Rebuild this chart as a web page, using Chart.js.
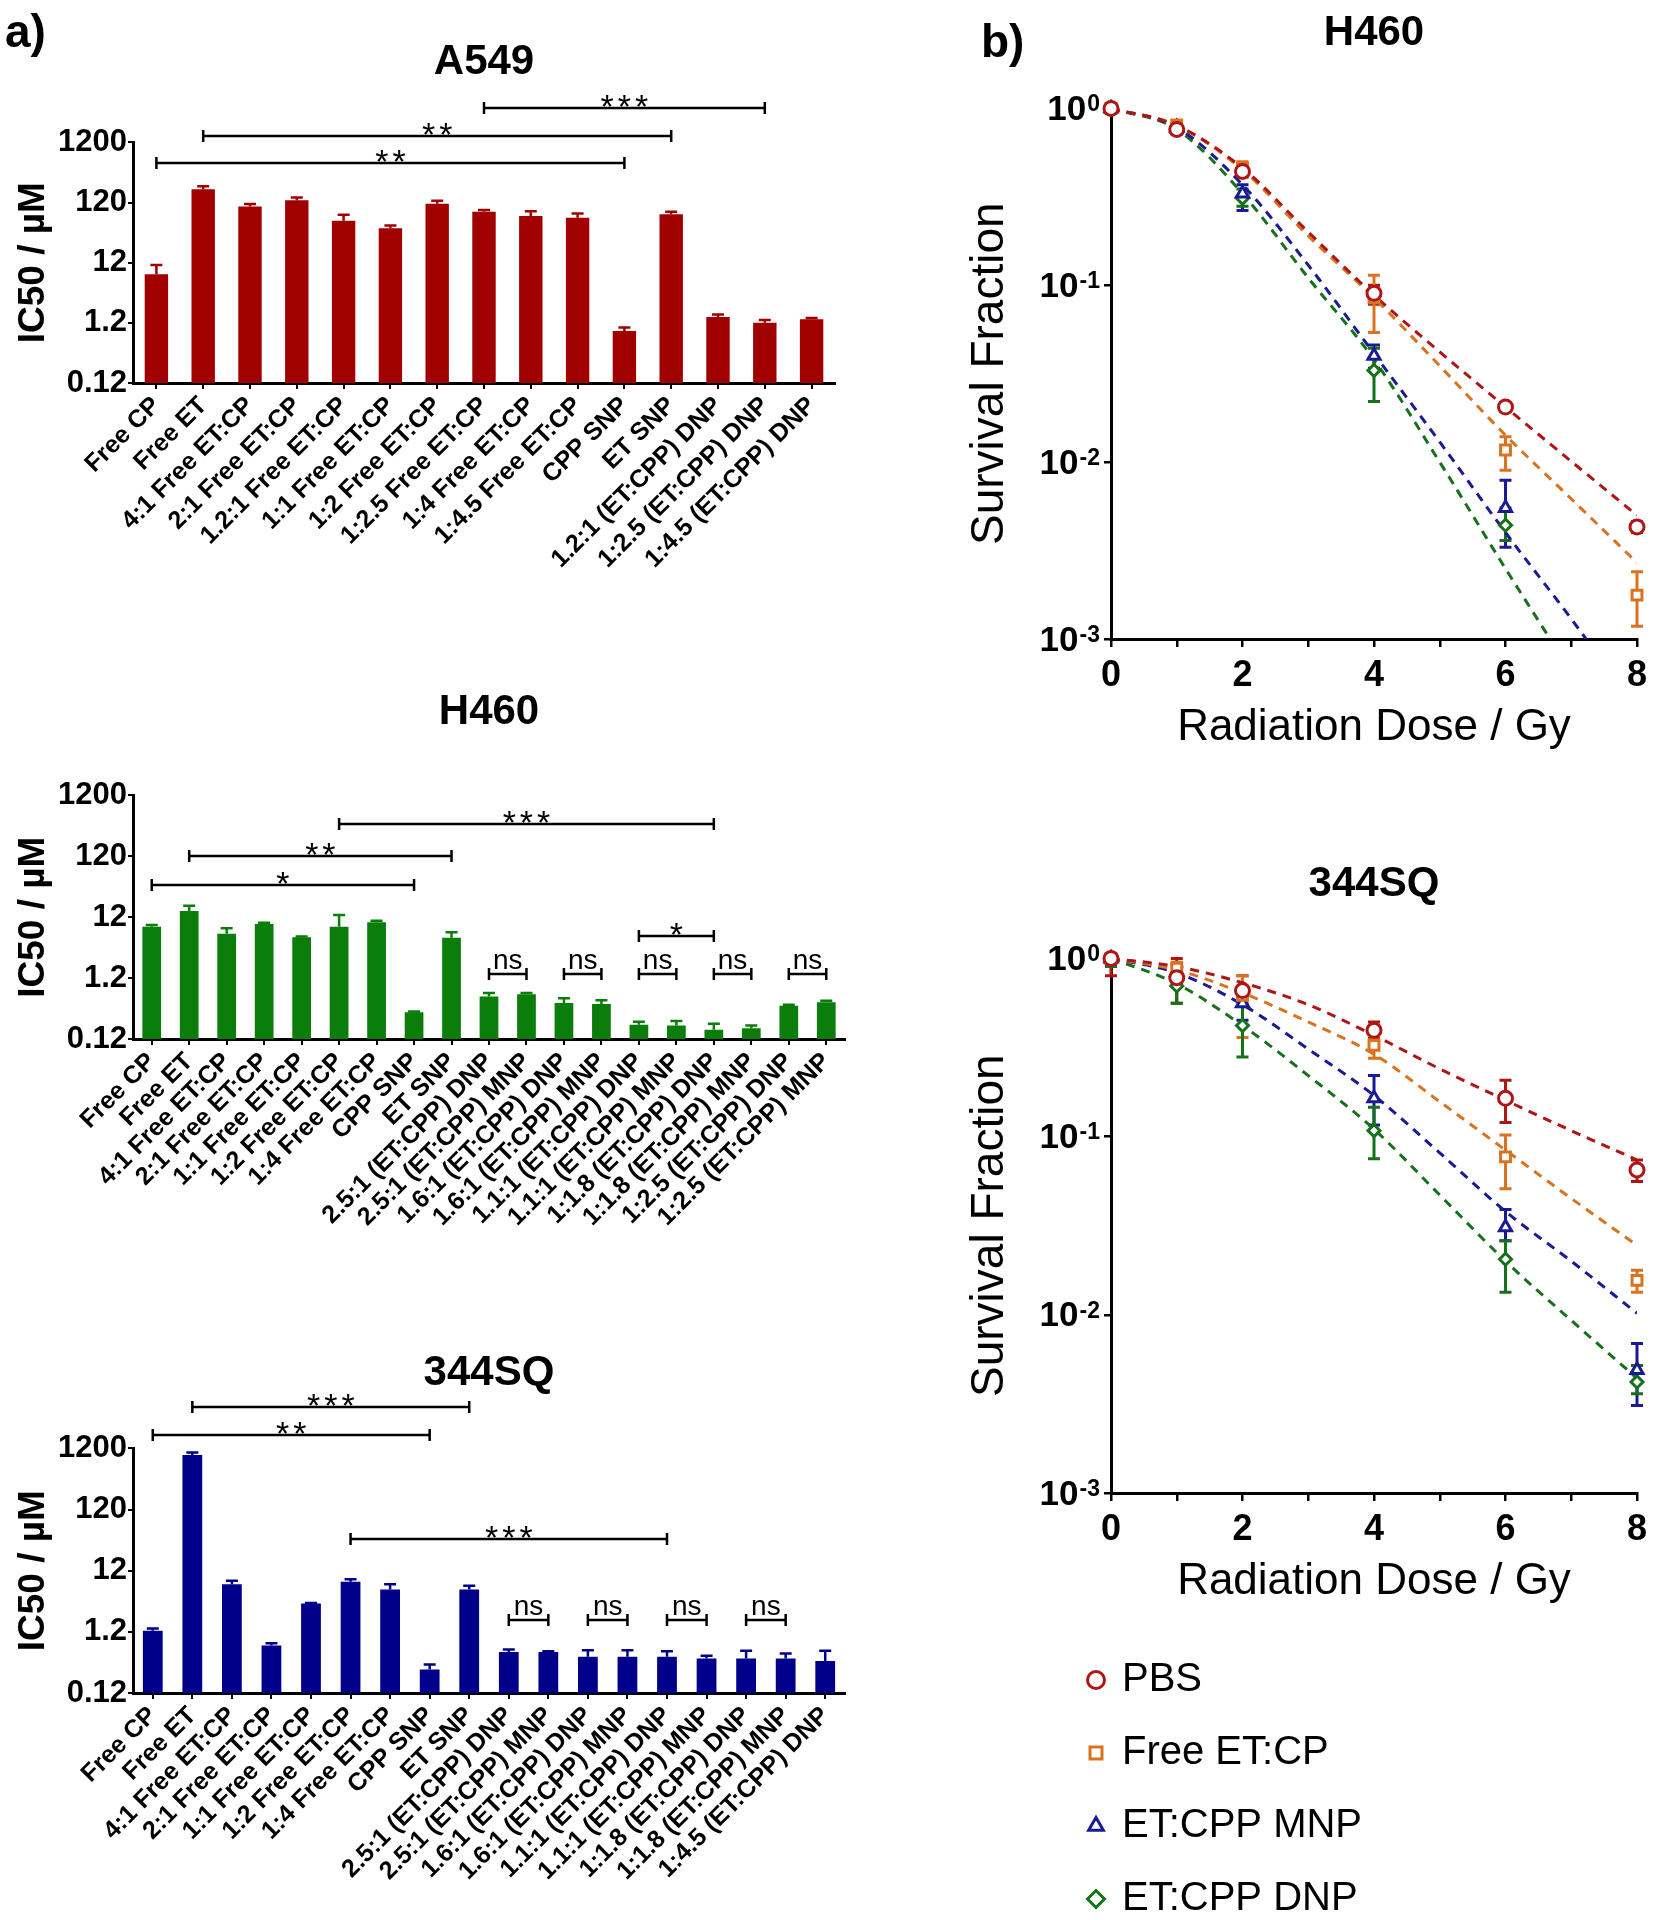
<!DOCTYPE html>
<html>
<head>
<meta charset="utf-8">
<script src="https://cdn.jsdelivr.net/npm/chart.js@4.4.1/dist/chart.umd.min.js"></script>
<style>
  html, body { margin: 0; padding: 0; background: #fff; overflow: hidden; }
  body { width: 1655px; height: 1920px; position: relative; font-family: 'Liberation Sans', Arial, sans-serif; }
  canvas { position: absolute; }
  .panel { position: absolute; font-weight: bold; font-size: 46px; line-height: 1; color: #000; }
</style>
</head>
<body>
<canvas id="a549" width="870" height="590" style="left:0;top:0"></canvas>
<canvas id="h460bar" width="870" height="600" style="left:0;top:680px"></canvas>
<canvas id="sq344bar" width="870" height="590" style="left:0;top:1330px"></canvas>
<canvas id="h460line" width="715" height="780" style="left:940px;top:0"></canvas>
<canvas id="sq344line" width="715" height="780" style="left:940px;top:840px"></canvas>
<canvas id="legend" width="598" height="340" style="left:1057px;top:1627px"></canvas>
<div class="panel" style="left:5px;top:8px">a)</div>
<div class="panel" style="left:981px;top:18px">b)</div>
<script>
const FONT = "'Liberation Sans', Arial, sans-serif";
Chart.defaults.font.family = FONT;
Chart.defaults.color = '#000';
Chart.defaults.animation = false;

// ---- IC50 bar data ----
const icTicks = [0.12, 1.2, 12, 120, 1200];

const a549Labels = ['Free CP', 'Free ET', '4:1 Free ET:CP', '2:1 Free ET:CP', '1.2:1 Free ET:CP', '1:1 Free ET:CP',
  '1:2 Free ET:CP', '1:2.5 Free ET:CP', '1:4 Free ET:CP', '1:4.5 Free ET:CP', 'CPP SNP', 'ET SNP',
  '1.2:1 (ET:CPP) DNP', '1:2.5 (ET:CPP) DNP', '1:4.5 (ET:CPP) DNP'];
const a549Values = [7.7, 200, 103, 131, 60, 45, 115, 84, 72, 67, 0.88, 77, 1.5, 1.2, 1.38];
const a549Upper = [11, 225, 113, 146, 75, 50, 129, 90, 86, 79, 1.0, 84, 1.65, 1.34, 1.45];
const a549Sig = [[0, 10, 540, '**'], [1, 11, 1510, '**'], [7, 13, 4560, '***']];

const h460Labels = ['Free CP', 'Free ET', '4:1 Free ET:CP', '2:1 Free ET:CP', '1:1 Free ET:CP', '1:2 Free ET:CP',
  '1:4 Free ET:CP', 'CPP SNP', 'ET SNP', '2.5:1 (ET:CPP) DNP', '2.5:1 (ET:CPP) MNP', '1.6:1 (ET:CPP) DNP',
  '1.6:1 (ET:CPP) MNP', '1.1:1 (ET:CPP) DNP', '1.1:1 (ET:CPP) MNP', '1:1.8 (ET:CPP) DNP', '1:1.8 (ET:CPP) MNP',
  '1:2.5 (ET:CPP) DNP', '1:2.5 (ET:CPP) MNP'];
const h460Values = [8.4, 15.2, 6.4, 9.3, 5.6, 8.4, 9.9, 0.33, 5.5, 0.6, 0.65, 0.47, 0.45, 0.206, 0.2, 0.17, 0.18, 0.42, 0.48];
const h460Upper = [8.9, 18.5, 7.9, 9.7, 5.8, 13.1, 10.5, 0.34, 6.8, 0.68, 0.68, 0.56, 0.52, 0.23, 0.236, 0.214, 0.2, 0.44, 0.51];
const h460Sig = [[0, 7, 40, '*'], [1, 8, 121, '**'], [5, 15, 412, '***'], [13, 15, 5.9, '*'],
  [9, 10, 1.41, 'ns'], [11, 12, 1.41, 'ns'], [13, 14, 1.41, 'ns'], [15, 16, 1.41, 'ns'], [17, 18, 1.41, 'ns']];

const sq344Labels = ['Free CP', 'Free ET', '4:1 Free ET:CP', '2:1 Free ET:CP', '1:1 Free ET:CP', '1:2 Free ET:CP',
  '1:4 Free ET:CP', 'CPP SNP', 'ET SNP', '2.5:1 (ET:CPP) DNP', '2.5:1 (ET:CPP) MNP', '1.6:1 (ET:CPP) DNP',
  '1.6:1 (ET:CPP) MNP', '1.1:1 (ET:CPP) DNP', '1.1:1 (ET:CPP) MNP', '1:1.8 (ET:CPP) DNP', '1:1.8 (ET:CPP) MNP',
  '1:4.5 (ET:CPP) DNP'];
const sq344Values = [1.25, 932, 7.2, 0.72, 3.5, 7.9, 5.9, 0.29, 5.9, 0.56, 0.56, 0.47, 0.47, 0.47, 0.44, 0.44, 0.44, 0.4];
const sq344Upper = [1.36, 1030, 8.2, 0.78, 3.55, 8.7, 7.2, 0.35, 6.8, 0.62, 0.58, 0.6, 0.6, 0.58, 0.49, 0.59, 0.53, 0.59];
const sq344Sig = [[0, 7, 1990, '**'], [1, 8, 5780, '***'], [5, 13, 39.7, '***'],
  [9, 10, 1.86, 'ns'], [11, 12, 1.86, 'ns'], [13, 14, 1.86, 'ns'], [15, 16, 1.86, 'ns']];

// ---- survival data ----
const doses = [0, 1, 2, 4, 6, 8];
const fitDoses = [0, 1, 2, 3, 4, 5, 6, 7, 8];
const survivalTicks = [1, 0.1, 0.01, 0.001];

const h460Pbs = [1, 0.76, 0.44, 0.09, 0.0205, 0.0043];
const h460PbsLo = [null, 0.72, 0.41, 0.078, 0.0195, 0.0040];
const h460PbsHi = [null, 0.80, 0.47, 0.10, 0.0215, 0.0046];
const h460PbsFit = [1, 0.8, 0.46, 0.2, 0.088, 0.042, 0.0205, 0.0101, 0.005];
const h460Free = [1, 0.80, 0.46, 0.085, 0.0117, 0.00177];
const h460FreeLo = [null, 0.75, 0.41, 0.054, 0.009, 0.00118];
const h460FreeHi = [null, 0.86, 0.50, 0.114, 0.0139, 0.0024];
const h460FreeFit = [1, 0.8, 0.45, 0.19, 0.085, 0.035, 0.0142, 0.0062, 0.0027];
const h460Mnp = [1, 0.78, 0.33, 0.040, 0.0055, null];
const h460MnpLo = [null, 0.74, 0.265, 0.034, 0.0033, null];
const h460MnpHi = [null, 0.82, 0.37, 0.046, 0.0079, null];
const h460MnpFit = [1, 0.78, 0.37, 0.13, 0.041, 0.013, 0.004, 0.0013, 0.0004];
const h460Dnp = [1, 0.76, 0.31, 0.033, 0.0044, null];
const h460DnpLo = [null, 0.72, 0.28, 0.022, 0.0036, null];
const h460DnpHi = [null, 0.80, 0.35, 0.044, 0.0055, null];
const h460DnpFit = [1, 0.76, 0.33, 0.11, 0.038, 0.01, 0.0025, 0.00065, 0.00017];

const sq344Pbs = [1, 0.78, 0.66, 0.395, 0.164, 0.065];
const sq344PbsLo = [0.8, 0.56, 0.56, 0.355, 0.12, 0.056];
const sq344PbsHi = [1.05, 1.0, 0.8, 0.44, 0.207, 0.074];
const sq344PbsFit = [1, 0.9, 0.73, 0.55, 0.37, 0.24, 0.16, 0.108, 0.074];
const sq344Free = [1, 0.88, 0.62, 0.325, 0.077, 0.0156];
const sq344FreeLo = [0.9, 0.7, 0.36, 0.275, 0.051, 0.0134];
const sq344FreeHi = [1.06, 0.95, 0.8, 0.35, 0.102, 0.0178];
const sq344FreeFit = [1, 0.86, 0.64, 0.44, 0.29, 0.157, 0.084, 0.045, 0.0245];
const sq344Mnp = [1, 0.84, 0.56, 0.164, 0.031, 0.0049];
const sq344MnpLo = [0.93, 0.75, 0.45, 0.116, 0.026, 0.0031];
const sq344MnpHi = [1.04, 0.92, 0.66, 0.22, 0.039, 0.0069];
const sq344MnpFit = [1, 0.83, 0.55, 0.31, 0.17, 0.081, 0.038, 0.02, 0.0102];
const sq344Dnp = [1, 0.70, 0.42, 0.108, 0.0205, 0.0042];
const sq344DnpLo = [0.9, 0.56, 0.28, 0.075, 0.0134, 0.0036];
const sq344DnpHi = [1.04, 0.8, 0.6, 0.146, 0.026, 0.0052];
const sq344DnpFit = [1, 0.72, 0.42, 0.22, 0.11, 0.047, 0.02, 0.0093, 0.0044];

const seriesNames = ['PBS', 'Free ET:CP', 'ET:CPP MNP', 'ET:CPP DNP'];
const seriesColors = ['#B01515', '#D9731F', '#1A1A96', '#16711A'];
const seriesStyles = ['circle', 'rect', 'triangle', 'rectRot'];

// ---- plugins ----
const barErrors = {
  id: 'barErrors',
  afterDatasetsDraw(chart, args, opts) {
    const ctx = chart.ctx;
    const y = chart.scales.y;
    const meta = chart.getDatasetMeta(0);
    ctx.save();
    ctx.strokeStyle = opts.color;
    ctx.lineWidth = 2.5;
    meta.data.forEach((bar, i) => {
      const top = y.getPixelForValue(opts.upper[i]);
      ctx.beginPath();
      ctx.moveTo(bar.x, bar.y);
      ctx.lineTo(bar.x, top);
      ctx.moveTo(bar.x - 6, top);
      ctx.lineTo(bar.x + 6, top);
      ctx.stroke();
    });
    ctx.restore();
  }
};

const sigBrackets = {
  id: 'sigBrackets',
  afterDraw(chart, args, opts) {
    const {ctx, scales: {x, y}} = chart;
    ctx.save();
    ctx.strokeStyle = '#000';
    ctx.fillStyle = '#000';
    ctx.lineWidth = 2.5;
    ctx.textAlign = 'center';
    ctx.textBaseline = 'alphabetic';
    opts.list.forEach(([i, j, v, mark]) => {
      const x1 = x.getPixelForValue(i);
      const x2 = x.getPixelForValue(j);
      const yy = Math.round(y.getPixelForValue(v));
      ctx.beginPath();
      ctx.moveTo(x1, yy); ctx.lineTo(x2, yy);
      ctx.moveTo(x1, yy - 6); ctx.lineTo(x1, yy + 6);
      ctx.moveTo(x2, yy - 6); ctx.lineTo(x2, yy + 6);
      ctx.stroke();
      if (mark === 'ns') {
        ctx.font = '28px ' + FONT;
        ctx.letterSpacing = '0px';
        ctx.fillText(mark, (x1 + x2) / 2, yy - 5);
      } else {
        ctx.font = '34px ' + FONT;
        ctx.letterSpacing = '4px';
        ctx.fillText(mark, (x1 + x2) / 2 + 2, yy + 10);
      }
    });
    ctx.restore();
  }
};

const pointErrors = {
  id: 'pointErrors',
  beforeDatasetsDraw(chart) {
    const {ctx, scales: {x, y}} = chart;
    ctx.save();
    ctx.lineWidth = 3;
    chart.data.datasets.forEach(ds => {
      if (!ds.errLo) return;
      ctx.strokeStyle = ds.borderColor;
      doses.forEach((d, i) => {
        if (ds.errLo[i] == null) return;
        const px = x.getPixelForValue(d);
        const lo = y.getPixelForValue(ds.errLo[i]);
        const hi = y.getPixelForValue(ds.errHi[i]);
        ctx.beginPath();
        ctx.moveTo(px, lo); ctx.lineTo(px, hi);
        ctx.moveTo(px - 6, lo); ctx.lineTo(px + 6, lo);
        ctx.moveTo(px - 6, hi); ctx.lineTo(px + 6, hi);
        ctx.stroke();
      });
    });
    ctx.restore();
  }
};

const powerTicks = {
  id: 'powerTicks',
  afterDraw(chart) {
    const {ctx, scales: {y}} = chart;
    const right = y.right - 11;
    ctx.save();
    ctx.fillStyle = '#000';
    ctx.textAlign = 'right';
    survivalTicks.forEach(v => {
      const py = y.getPixelForValue(v);
      const exp = String(Math.round(Math.log10(v)));
      ctx.font = 'bold 23px ' + FONT;
      ctx.textBaseline = 'top';
      ctx.fillText(exp, right, py - 15);
      const w = ctx.measureText(exp).width;
      ctx.font = 'bold 35px ' + FONT;
      ctx.textBaseline = 'middle';
      ctx.fillText('10', right - w - 1, py + 2);
    });
    ctx.restore();
  }
};

// ---- chart builders ----
function barChart(id, title, labels, values, upper, sig, color, box) {
  return new Chart(document.getElementById(id), {
    type: 'bar',
    data: {
      labels: labels,
      datasets: [{ data: values, backgroundColor: color, barPercentage: 0.5, categoryPercentage: 1 }]
    },
    options: {
      responsive: false,
      layout: { padding: { left: 0, right: box.right, top: 0, bottom: 0 } },
      plugins: {
        legend: { display: false },
        tooltip: { enabled: false },
        title: {
          display: true, text: title, fullSize: false,
          font: { size: 42, weight: 'bold' },
          padding: { top: box.titleTop, bottom: box.titleBottom }
        },
        barErrors: { upper: upper, color: color },
        sigBrackets: { list: sig }
      },
      scales: {
        x: {
          afterFit: (s) => { s.height = box.xHeight; },
          grid: { drawOnChartArea: false, offset: false, color: '#000', tickLength: 6, lineWidth: 2 },
          border: { color: '#000', width: 3 },
          ticks: { autoSkip: false, minRotation: 45, maxRotation: 45, padding: 2, font: { size: 25, weight: 'bold' } }
        },
        y: {
          type: 'logarithmic', min: 0.12, max: 1200,
          afterFit: (s) => { s.width = 133; },
          afterBuildTicks: (s) => { s.ticks = icTicks.map(v => ({ value: v })); },
          grid: { drawOnChartArea: false, color: '#000', tickLength: 5, lineWidth: 2 },
          border: { color: '#000', width: 3 },
          ticks: { padding: 1, font: { size: 31, weight: 'bold' }, callback: (v) => String(v) },
          title: { display: true, text: 'IC50 / µM', font: { size: 37, weight: 'bold' }, padding: { top: 12, bottom: 0 } }
        }
      }
    },
    plugins: [barErrors, sigBrackets]
  });
}

function survivalChart(id, title, means, los, his, fits, box) {
  const datasets = [];
  fits.forEach((fit, k) => datasets.push({
    label: seriesNames[k] + ' fit',
    data: fitDoses.map((d, i) => ({ x: d, y: fit[i] })),
    borderColor: seriesColors[k], borderWidth: 3, borderDash: [9, 7],
    pointRadius: 0, cubicInterpolationMode: 'monotone', fill: false, order: 1
  }));
  means.forEach((m, k) => datasets.push({
    label: seriesNames[k],
    data: doses.map((d, i) => ({ x: d, y: m[i] })),
    showLine: false, pointStyle: seriesStyles[k],
    pointRadius: seriesStyles[k] === 'rectRot' ? 6 : 7,
    pointBorderWidth: 3, pointBorderColor: seriesColors[k], pointBackgroundColor: '#fff',
    borderColor: seriesColors[k], backgroundColor: '#fff',
    clip: false, order: 0, errLo: los[k], errHi: his[k]
  }));
  return new Chart(document.getElementById(id), {
    type: 'line',
    data: { datasets: datasets },
    options: {
      responsive: false,
      layout: { padding: { left: 0, right: 18, top: 0, bottom: 0 } },
      plugins: {
        legend: { display: false },
        tooltip: { enabled: false },
        title: {
          display: true, text: title, fullSize: false,
          font: { size: 42, weight: 'bold' },
          padding: { top: box.titleTop, bottom: box.titleBottom }
        }
      },
      scales: {
        x: {
          type: 'linear', min: 0, max: 8,
          afterFit: (s) => { s.height = box.xHeight; },
          grid: { drawOnChartArea: false, color: '#000', tickLength: 8, lineWidth: 2.5 },
          border: { color: '#000', width: 3 },
          ticks: { stepSize: 1, autoSkip: false, maxRotation: 0, padding: 7, font: { size: 36, weight: 'bold' },
            callback: (v) => (v % 2 === 0 ? String(v) : '') },
          title: { display: true, text: 'Radiation Dose / Gy', font: { size: 44 }, padding: { top: 0, bottom: box.xTitleBottom } }
        },
        y: {
          type: 'logarithmic', min: 0.001, max: 1,
          afterFit: (s) => { s.width = 171; },
          afterBuildTicks: (s) => { s.ticks = survivalTicks.map(v => ({ value: v })); },
          grid: { drawOnChartArea: false, color: '#000', tickLength: 7, lineWidth: 2.5 },
          border: { color: '#000', width: 3 },
          ticks: { callback: () => '' },
          title: { display: true, text: 'Survival Fraction', font: { size: 46 }, padding: { top: 23, bottom: 0 } }
        }
      }
    },
    plugins: [pointErrors, powerTicks]
  });
}

barChart('a549', 'A549', a549Labels, a549Values, a549Upper, a549Sig, '#A00000',
  { right: 35, titleTop: 37, titleBottom: 55, xHeight: 207 });
barChart('h460bar', 'H460', h460Labels, h460Values, h460Upper, h460Sig, '#0B7D0B',
  { right: 25, titleTop: 7, titleBottom: 58, xHeight: 241 });
barChart('sq344bar', '344SQ', sq344Labels, sq344Values, sq344Upper, sq344Sig, '#00008B',
  { right: 25, titleTop: 18, titleBottom: 50, xHeight: 227 });

survivalChart('h460line', 'H460',
  [h460Pbs, h460Free, h460Mnp, h460Dnp],
  [h460PbsLo, h460FreeLo, h460MnpLo, h460DnpLo],
  [h460PbsHi, h460FreeHi, h460MnpHi, h460DnpHi],
  [h460PbsFit, h460FreeFit, h460MnpFit, h460DnpFit],
  { titleTop: 8, titleBottom: 50, xHeight: 141, xTitleBottom: 26 });
survivalChart('sq344line', '344SQ',
  [sq344Pbs, sq344Free, sq344Mnp, sq344Dnp],
  [sq344PbsLo, sq344FreeLo, sq344MnpLo, sq344DnpLo],
  [sq344PbsHi, sq344FreeHi, sq344MnpHi, sq344DnpHi],
  [sq344PbsFit, sq344FreeFit, sq344MnpFit, sq344DnpFit],
  { titleTop: 19, titleBottom: 49, xHeight: 127, xTitleBottom: 12 });

// legend for the survival curves
new Chart(document.getElementById('legend'), {
  type: 'line',
  data: {
    datasets: seriesNames.map((name, k) => ({
      label: name, data: [], pointStyle: seriesStyles[k],
      borderColor: seriesColors[k], backgroundColor: '#fff', borderWidth: 3
    }))
  },
  options: {
    responsive: false,
    scales: { x: { display: false }, y: { display: false } },
    plugins: {
      tooltip: { enabled: false },
      legend: {
        position: 'left', align: 'start', maxWidth: 520,
        labels: { usePointStyle: true, boxWidth: 12, boxHeight: 12, padding: 33, color: '#000', font: { size: 40 } }
      }
    }
  }
});
</script>
</body>
</html>
